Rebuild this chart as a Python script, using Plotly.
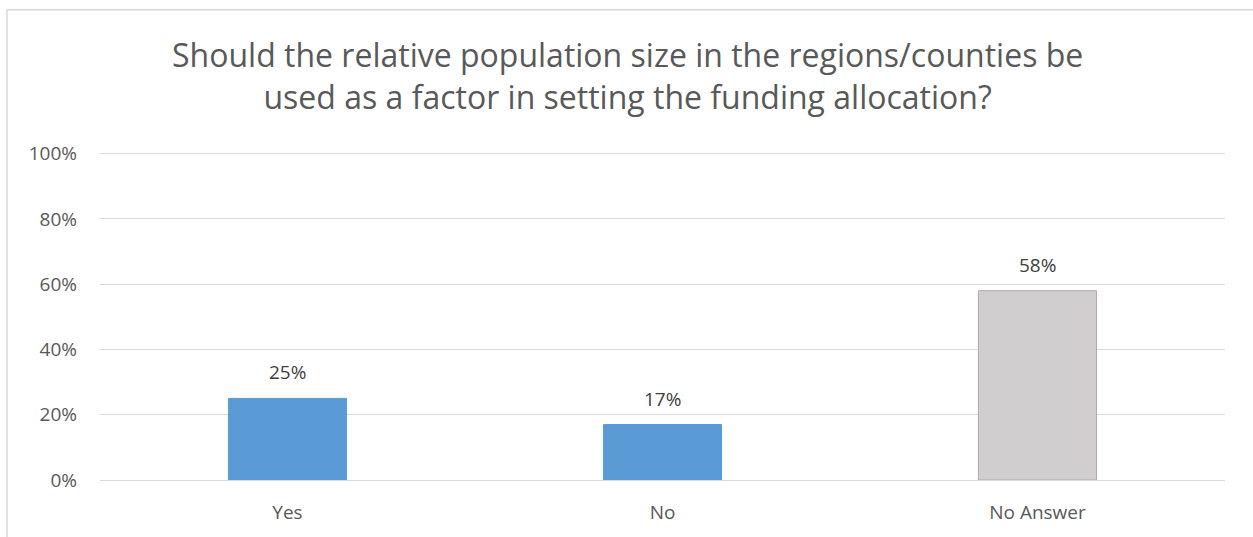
import plotly.graph_objects as go

categories = ["Yes", "No", "No Answer"]
values = [25, 17, 58]
labels = ["25%", "17%", "58%"]
bar_colors = ["#5B9BD5", "#5B9BD5", "#D0CECE"]
line_colors = ["#5B9BD5", "#5B9BD5", "#AFABAB"]
y_ticks = [0, 20, 40, 60, 80, 100]
y_tick_text = ["0%", "20%", "40%", "60%", "80%", "100%"]
title_text = ("Should the relative population size in the regions/counties be<br>"
              "used as a factor in setting the funding allocation?")

W, H = 1253, 537
L, R, T, B = 100, 28, 152, 55
PW, PH = W - L - R, H - T - B

fig = go.Figure()
fig.add_trace(go.Bar(
    x=categories, y=values,
    marker=dict(color=bar_colors, line=dict(color=line_colors, width=1)),
    width=0.315,
    hoverinfo="skip",
))

for c, v, t in zip(categories, values, labels):
    fig.add_annotation(x=c, y=v, text=t, showarrow=False, yanchor="bottom",
                       yshift=11, font=dict(family="Open Sans", size=19, color="#404040"))

def px_x(p):
    return (p - L) / PW

def px_y(p):
    return (H - B - p) / PH

fig.add_annotation(text=title_text, xref="paper", yref="paper",
                   x=px_x(627), y=px_y(30), xanchor="center", yanchor="top",
                   showarrow=False, align="center",
                   font=dict(family="Open Sans", size=32, color="#595959"))

border = dict(color="#D9D9D9", width=1.5)
fig.add_shape(type="line", xref="paper", yref="paper",
              x0=px_x(7), x1=px_x(7), y0=px_y(9), y1=px_y(560), line=border)
fig.add_shape(type="line", xref="paper", yref="paper",
              x0=px_x(7), x1=px_x(1280), y0=px_y(9), y1=px_y(9), line=border)

fig.update_layout(
    width=W, height=H,
    margin=dict(l=L, r=R, t=T, b=B),
    paper_bgcolor="white", plot_bgcolor="white",
    showlegend=False,
    xaxis=dict(showgrid=False, showline=False, zeroline=False, ticks="",
               tickfont=dict(family="Open Sans", size=19, color="#595959"),
               ticklabelstandoff=19),
    yaxis=dict(range=[0, 100.5], tickvals=y_ticks, ticktext=y_tick_text,
               showgrid=True, gridcolor="#D9D9D9", gridwidth=1,
               zeroline=True, zerolinecolor="#D9D9D9", zerolinewidth=1,
               showline=False, ticks="",
               tickfont=dict(family="Open Sans", size=19, color="#595959"),
               ticklabelstandoff=22),
)

fig.write_html("out.html")
